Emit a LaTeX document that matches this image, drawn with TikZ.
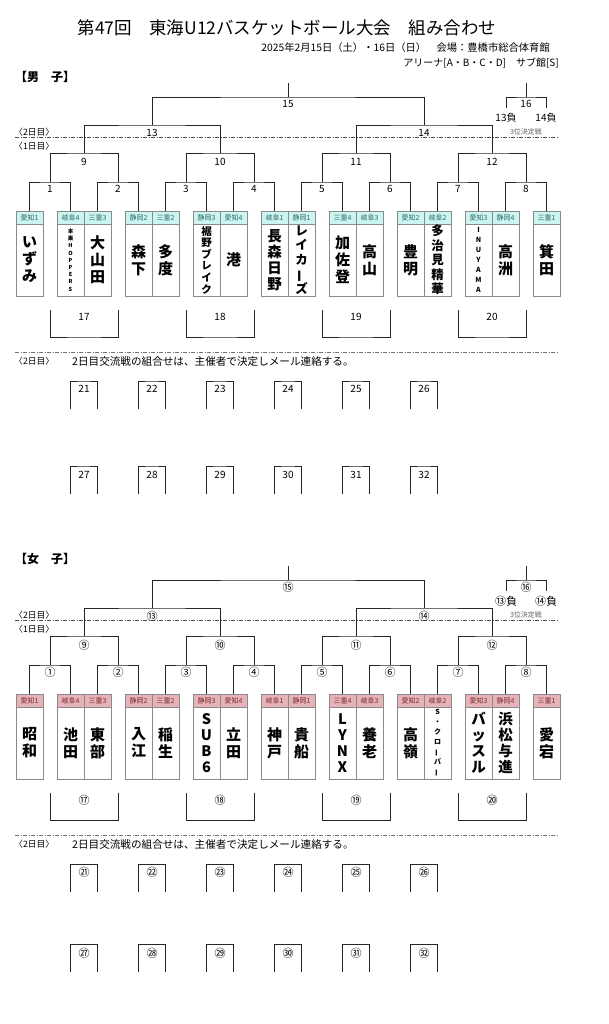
\documentclass[tikz,border=0pt]{standalone}
\usepackage{fontspec}
\setmainfont{Noto Sans CJK JP}
\definecolor{boyhead}{HTML}{CCF4F0}
\definecolor{boytext}{HTML}{2E6B6B}
\definecolor{girlhead}{HTML}{E6B4B8}
\definecolor{girltext}{HTML}{7A2A30}
\definecolor{boxline}{HTML}{8A8A8A}
\newcommand{\fsz}[2]{\fontsize{#1}{#2}\selectfont}
\newcommand{\tatebo}{\rotatebox[origin=c]{90}{ー}}

\begin{document}
\begin{tikzpicture}[x=1pt, y=-1pt,
  line/.style={draw=black!85, line width=0.8pt},
  dayline/.style={draw=black!70, line width=0.7pt, dash pattern=on 4pt off 1.5pt on 1pt off 1.5pt},
  teambox/.style={draw=boxline, line width=0.6pt, minimum width=27pt, minimum height=85pt, inner sep=0pt},
  headbox/.style={draw=boxline, line width=0.6pt, minimum width=27pt, minimum height=13pt, inner sep=0pt, font=\fsz{7}{8}},
  num/.style={inner sep=0pt, font=\fsz{10}{11}},
  cnum/.style={inner sep=0pt, font=\fsz{11}{12}},
  small/.style={inner sep=0pt, font=\fsz{8.8}{9}},
  nm/.style={align=center, inner sep=0pt, font=\bfseries\fsz{15}{17}},
  nmb/.style={nm, font=\bfseries\fsz{14.5}{16}},
  nmc/.style={nm, font=\bfseries\fsz{12.5}{14.5}},
  nmd/.style={nm, font=\bfseries\fsz{10.5}{11.6}},
  nme/.style={nm, font=\bfseries\fsz{7}{10}},
  nmf/.style={nm, font=\bfseries\fsz{5.5}{7.2}}]
\path[fill=white] (0, 0) rectangle (609, 1024);

\node(title) at (287, 28) {\fsz{17.5}{20}第47回　東海U12バスケットボール大会　組み合わせ};
\node[anchor=east, inner sep=0pt](date) at (550, 48) {\fsz{10.3}{11}2025年2月15日（土）・16日（日）　会場：豊橋市総合体育館};
\node[anchor=east, inner sep=0pt](hall) at (559, 63) {\fsz{10}{11}アリーナ[A・B・C・D]　サブ館[S]};
\node[anchor=west, inner sep=0pt](boys) at (15, 77) {\fsz{12}{13}\bfseries【男　子】};
\node[anchor=west, inner sep=0pt](girls) at (15, 559) {\fsz{12}{13}\bfseries【女　子】};

\foreach \p/\dy/\hc/\tc/\rb in {B/0/boyhead/boytext/466, G/483/girlhead/girltext/461} {
\begin{scope}[shift={(0, \dy)}]
  \foreach \t/\pf in {1/愛知1, 2/岐阜4, 3/三重3, 4/静岡2, 5/三重2, 6/静岡3, 7/愛知4, 8/岐阜1,
      9/静岡1, 10/三重4, 11/岐阜3, 12/愛知2, 13/岐阜2, 14/愛知3, 15/静岡4, 16/三重1} {
    \pgfmathsetmacro{\cx}{2.5+68*floor(\t/2)+27*mod(\t,2)}
    \node[teambox](\p box\t) at (\cx, 253.5) {};
    \node[headbox, fill=\hc, text=\tc](\p head\t) at (\cx, 217.5) {\pf};
    \coordinate(\p n\t) at (\cx, 260);
  }
  \foreach \m in {1,...,8} {
    \pgfmathsetmacro{\mx}{68*\m-18}
    \pgfmathtruncatemacro{\ta}{2*\m-1}
    \pgfmathtruncatemacro{\tb}{2*\m}
    \coordinate(\p m\m) at (\mx, 182);
    \coordinate(\p l\m) at (\mx, 189);
    \draw[line] (\p box\ta.north) |- (\p m\m) -| (\p box\tb.north);
  }
  \foreach \k in {1,...,4} {
    \pgfmathsetmacro{\mx}{136*\k-52}
    \pgfmathtruncatemacro{\mm}{8+\k}
    \pgfmathtruncatemacro{\ma}{2*\k-1}
    \pgfmathtruncatemacro{\mb}{2*\k}
    \coordinate(\p m\mm) at (\mx, 153);
    \coordinate(\p l\mm) at (\mx, 162);
    \draw[line] (\p m\ma) |- (\p m\mm) -| (\p m\mb);
  }
  \coordinate(\p m13) at (152, 125);
  \coordinate(\p l13) at (152, 133);
  \coordinate(\p m14) at (424, 125);
  \coordinate(\p l14) at (424, 133);
  \coordinate(\p m15) at (288, 97);
  \coordinate(\p l15) at (288, 104);
  \coordinate(\p top15) at (288, 83);
  \coordinate(\p m16) at (526, 97);
  \coordinate(\p l16) at (526, 104);
  \coordinate(\p top16) at (526, 83);
  \coordinate(\p lose13) at (506, 108);
  \coordinate(\p lose14) at (546, 108);
  \draw[line] (\p m9) |- (\p m13) -| (\p m10);
  \draw[line] (\p m11) |- (\p m14) -| (\p m12);
  \draw[line] (\p m13) |- (\p m15) -| (\p m14);
  \draw[line] (\p m15) -- (\p top15);
  \draw[line] (\p lose13) |- (\p m16) -| (\p lose14);
  \draw[line] (\p m16) -- (\p top16);
  \node[inner sep=0pt, text=black!60, font=\fsz{7}{8}](\p third) at (526, 132) {3位決定戦};

  \foreach \j in {1,...,4} {
    \pgfmathtruncatemacro{\mm}{16+\j}
    \pgfmathsetmacro{\xa}{136*\j-86}
    \pgfmathsetmacro{\xb}{136*\j-18}
    \pgfmathsetmacro{\xm}{136*\j-52}
    \coordinate(\p ua\j) at (\xa, 310);
    \coordinate(\p ub\j) at (\xb, 310);
    \coordinate(\p m\mm) at (\xm, 337);
    \coordinate(\p l\mm) at (\xm, 317);
    \draw[line] (\p ua\j) |- (\p m\mm) -| (\p ub\j);
  }
  \foreach \n in {1,...,6} {
    \pgfmathtruncatemacro{\ma}{20+\n}
    \pgfmathtruncatemacro{\mb}{26+\n}
    \pgfmathsetmacro{\xa}{2.5+68*\n}
    \pgfmathsetmacro{\xb}{29.5+68*\n}
    \pgfmathsetmacro{\xm}{16+68*\n}
    \coordinate(\p da\n) at (\xa, 409);
    \coordinate(\p db\n) at (\xb, 409);
    \coordinate(\p m\ma) at (\xm, 381);
    \coordinate(\p l\ma) at (\xm, 389);
    \draw[line] (\p da\n) |- (\p m\ma) -| (\p db\n);
    \coordinate(\p ea\n) at (\xa, \rb+28);
    \coordinate(\p eb\n) at (\xb, \rb+28);
    \coordinate(\p m\mb) at (\xm, \rb);
    \coordinate(\p l\mb) at (\xm, \rb+9);
    \draw[line] (\p ea\n) |- (\p m\mb) -| (\p eb\n);
  }

  \coordinate(\p dl1) at (15, 137.5);
  \coordinate(\p dr1) at (559, 137.5);
  \coordinate(\p dl2) at (15, 352);
  \coordinate(\p dr2) at (559, 352);
  \draw[dayline] (\p dl1) -- (\p dr1);
  \draw[dayline, draw=black!55, line width=0.6pt] (\p dl2) -- (\p dr2);
  \node[small, anchor=west](\p day2) at (14, 132) {〈2日目〉};
  \node[small, anchor=west](\p day1) at (14, 146) {〈1日目〉};
  \node[small, anchor=west](\p day3) at (14, 361) {〈2日目〉};
  \node[anchor=west, inner sep=0pt, font=\fsz{10.6}{11}](\p note) at (72, 361) {2日目交流戦の組合せは、主催者で決定しメール連絡する。};
\end{scope}
}

\foreach \m in {1,...,32} \node[num] at (Bl\m) {\m};
\foreach \m/\lab in {1/①, 2/②, 3/③, 4/④, 5/⑤, 6/⑥, 7/⑦, 8/⑧, 9/⑨, 10/⑩, 11/⑪, 12/⑫, 13/⑬, 14/⑭, 15/⑮, 16/⑯,
    17/⑰, 18/⑱, 19/⑲, 20/⑳, 21/㉑, 22/㉒, 23/㉓, 24/㉔, 25/㉕, 26/㉖, 27/㉗, 28/㉘, 29/㉙, 30/㉚, 31/㉛, 32/㉜}
  \node[cnum] at (Gl\m) {\lab};
\node[num](Blose13) at (506, 118) {13負};
\node[num](Blose14) at (546, 118) {14負};
\node[cnum](Glose13) at (506, 601) {⑬負};
\node[cnum](Glose14) at (546, 601) {⑭負};

\node[nm](Bname1) at (Bn1) {い\\ず\\み};
\node[nmf](Bname2) at (Bn2) {本\\巣\\H\\O\\P\\P\\E\\R\\S};
\node[nm](Bname3) at (Bn3) {大\\山\\田};
\node[nm](Bname4) at (Bn4) {森\\下};
\node[nm](Bname5) at (Bn5) {多\\度};
\node[nmd](Bname6) at (Bn6) {裾\\野\\ブ\\レ\\イ\\ク};
\node[nm](Bname7) at (Bn7) {港};
\node[nmb](Bname8) at (Bn8) {長\\森\\日\\野};
\node[nmc](Bname9) at (Bn9) {レ\\イ\\カ\\\tatebo\\ズ};
\node[nm](Bname10) at (Bn10) {加\\佐\\登};
\node[nm](Bname11) at (Bn11) {高\\山};
\node[nm](Bname12) at (Bn12) {豊\\明};
\node[nmc](Bname13) at (Bn13) {多\\治\\見\\精\\華};
\node[nme](Bname14) at (Bn14) {I\\N\\U\\Y\\A\\M\\A};
\node[nm](Bname15) at (Bn15) {高\\洲};
\node[nm](Bname16) at (Bn16) {箕\\田};

\node[nm](Gname1) at (Gn1) {昭\\和};
\node[nm](Gname2) at (Gn2) {池\\田};
\node[nm](Gname3) at (Gn3) {東\\部};
\node[nm](Gname4) at (Gn4) {入\\江};
\node[nm](Gname5) at (Gn5) {稲\\生};
\node[nmb](Gname6) at (Gn6) {S\\U\\B\\6};
\node[nm](Gname7) at (Gn7) {立\\田};
\node[nm](Gname8) at (Gn8) {神\\戸};
\node[nm](Gname9) at (Gn9) {貴\\船};
\node[nmb](Gname10) at (Gn10) {L\\Y\\N\\X};
\node[nm](Gname11) at (Gn11) {養\\老};
\node[nm](Gname12) at (Gn12) {高\\嶺};
\node[nme](Gname13) at (Gn13) {S\\・\\ク\\ロ\\\tatebo\\バ\\\tatebo};
\node[nmb](Gname14) at (Gn14) {バ\\ッ\\ス\\ル};
\node[nmb](Gname15) at (Gn15) {浜\\松\\与\\進};
\node[nm](Gname16) at (Gn16) {愛\\宕};
\end{tikzpicture}
\end{document}
